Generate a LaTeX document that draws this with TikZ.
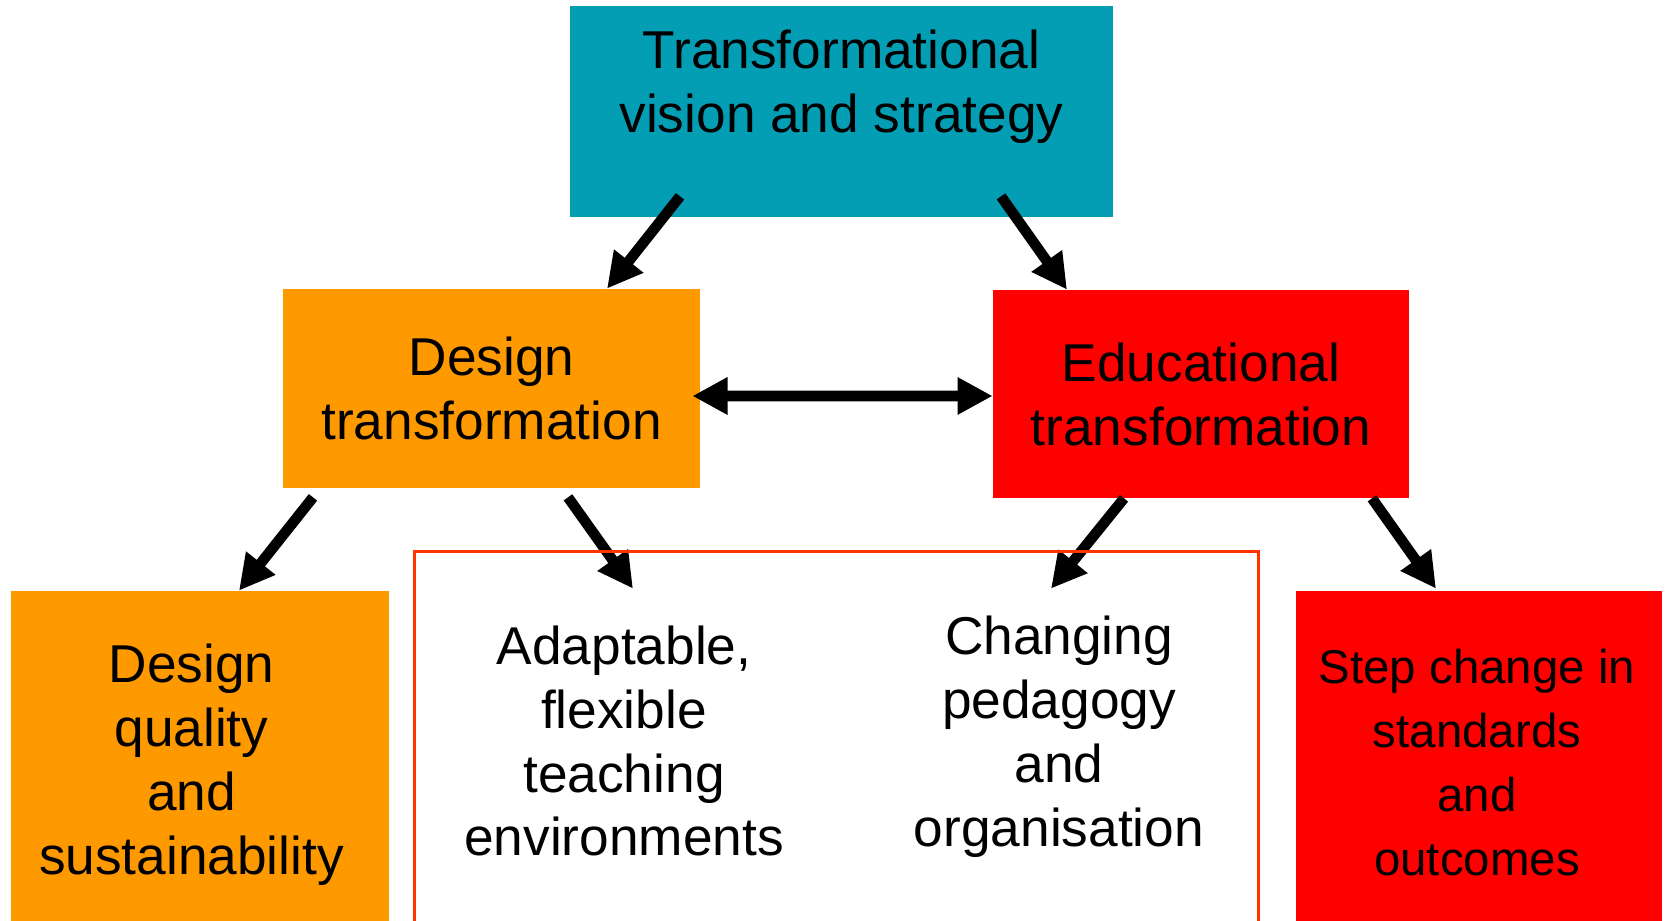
\documentclass[tikz,border=0pt]{standalone}
\usepackage{fontspec}
\setmainfont{Liberation Sans}
\usetikzlibrary{arrows.meta}
\definecolor{visionteal}{RGB}{3,157,180}
\definecolor{designorange}{RGB}{255,153,0}
\definecolor{edured}{RGB}{255,0,0}
\definecolor{framered}{RGB}{255,51,0}
\tikzset{
  box/.style={rectangle, inner sep=0pt, align=center},
  bigtxt/.style={font=\fontsize{30.3}{36.4}\selectfont, align=center},
  smalltxt/.style={font=\fontsize{27}{36.4}\selectfont, align=center},
  arr/.style={line width=6pt, -{Triangle[length=20pt,width=20pt]}},
  dblarr/.style={line width=6pt, {Triangle[length=20pt,width=20pt]}-{Triangle[length=20pt,width=20pt]}}
}
\begin{document}
\begin{tikzpicture}
      \useasboundingbox (0,0) rectangle (33.3,18.42);
      \node[box, fill=visionteal, minimum width=10.86cm, minimum height=4.22cm] (vision) at (16.83,16.19) {};
      \node[bigtxt] (visiontxt) at (16.83,16.68) {Transformational\\vision and strategy};
      \node[box, bigtxt, fill=designorange, minimum width=8.34cm, minimum height=3.98cm] (design) at (9.83,10.65) {Design\\transformation};
      \node[box, bigtxt, fill=edured, minimum width=8.32cm, minimum height=4.16cm] (edu) at (24.02,10.54) {Educational\\transformation};
      \node[box, fill=designorange, minimum width=7.56cm, minimum height=6.6cm] (quality) at (4.0,3.3) {};
      \node[bigtxt] (qualitytxt) at (3.83,3.13) {Design\\quality\\and\\sustainability};
      \node[box, fill=edured, minimum width=7.32cm, minimum height=6.6cm] (stepchange) at (29.58,3.3) {};
      \node[smalltxt] (steptxt) at (29.54,3.17) {Step change in\\standards\\and\\outcomes};
      \node[box, minimum width=16.86cm, minimum height=7.56cm] (frame) at (16.73,3.6) {};
      \node[bigtxt] (adapt) at (12.48,3.6) {Adaptable,\\flexible\\teaching\\environments};
      \node[bigtxt] (pedagogy) at (21.18,3.68) {Changing\\pedagogy\\and\\organisation};
      \draw[arr] ([xshift=-3.23cm, yshift=0.42cm]vision.south) -- ([xshift=2.31cm]design.north);
      \draw[arr] ([xshift=3.19cm, yshift=0.42cm]vision.south) -- ([xshift=-2.68cm]edu.north);
      \draw[dblarr] ([xshift=-0.16cm, yshift=-0.15cm]design.east) -- ([yshift=-0.04cm]edu.west);
      \draw[arr] ([xshift=-3.57cm, yshift=-0.18cm]design.south) -- ([xshift=0.78cm]quality.north);
      \draw[arr] ([xshift=1.53cm, yshift=-0.18cm]design.south) -- ([xshift=-4.07cm, yshift=-0.74cm]frame.north);
      \draw[arr] ([xshift=-1.54cm]edu.south) -- ([xshift=4.29cm, yshift=-0.74cm]frame.north);
      \draw[arr] ([xshift=3.42cm]edu.south) -- ([xshift=-0.86cm, yshift=0.04cm]stepchange.north);
      \draw[framered, line width=1.7pt] (frame.south west) rectangle (frame.north east);
\end{tikzpicture}
\end{document}
